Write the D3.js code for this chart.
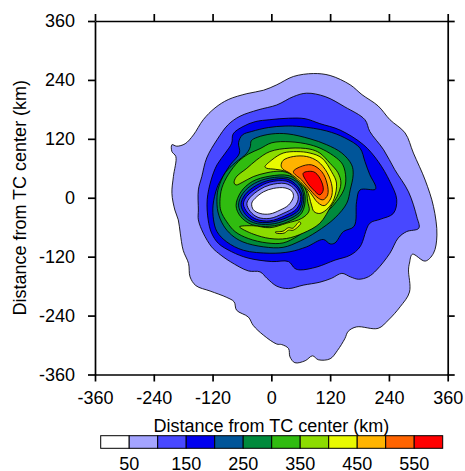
<!DOCTYPE html>
<html>
<head>
<meta charset="utf-8">
<script src="https://cdn.jsdelivr.net/npm/d3@7"></script>
<style>
html, body { margin: 0; padding: 0; background: #fff; overflow: hidden; }
svg { display: block; }
text { font-family: "Liberation Sans", Arial, sans-serif; fill: #000; }
</style>
</head>
<body>
<script>
// contour levels and the shading of each band
var levels = [50, 100, 150, 200, 250, 300, 350, 400, 450, 500, 550];
var colors = ["#ffffff", "#a4a4ff", "#4848ff", "#0000ee", "#005599", "#008a3c",
  "#30bc10", "#8cdc00", "#e8fa00", "#ffb400", "#ff6400", "#ff0000"];
var tickValues = [-360, -240, -120, 0, 120, 240, 360];
var barLabels = [50, 150, 250, 350, 450, 550];
var axisTitle = "Distance from TC center (km)";

// contours, [x km, y km]
var outer50 = [[-203,108],[-203,94],[-195,84],[-200,43],[-203,9],[-197,-25],[-190,-45],[-186,-72],[-180,-107],[-169,-134],[-166,-161],[-154,-179],[-125,-190],[-91,-203],[-76,-212],[-71,-229],[-47,-243],[-37,-260],[-16,-280],[11,-298],[21,-299],[35,-307],[38,-324],[48,-336],[69,-332],[84,-322],[96,-330],[120,-328],[135,-311],[150,-287],[157,-272],[174,-263],[218,-266],[239,-249],[263,-222],[282,-192],[280,-147],[282,-133],[288,-115],[314,-129],[331,-113],[338,-76],[331,-18],[314,36],[290,91],[273,132],[242,159],[218,187],[185,210],[161,230],[120,249],[86,253],[45,247],[11,230],[-16,219],[-50,212],[-88,200],[-115,183],[-139,159],[-159,128],[-176,110],[-193,105]];
var outer100 = [[72,213],[110,206],[150,185],[191,159],[201,135],[229,98],[252,57],[280,12],[297,-39],[301,-62],[276,-69],[259,-82],[242,-113],[215,-147],[198,-161],[178,-166],[161,-161],[144,-154],[123,-164],[99,-172],[65,-178],[35,-185],[11,-180],[-9,-164],[-23,-151],[-47,-149],[-84,-130],[-108,-113],[-122,-100],[-139,-72],[-149,-45],[-149,-25],[-149,16],[-142,43],[-132,81],[-111,118],[-88,149],[-64,166],[-27,179],[11,189],[45,206]];
var outer150 = [[35,162],[69,161],[99,151],[140,138],[188,108],[218,74],[242,33],[256,-4],[249,-32],[222,-44],[201,-52],[181,-100],[161,-117],[130,-127],[93,-141],[59,-147],[48,-144],[35,-130],[1,-130],[-47,-123],[-81,-110],[-108,-93],[-122,-72],[-129,-45],[-131,-4],[-123,36],[-111,67],[-94,91],[-81,111],[-78,130],[-58,145],[-33,155],[-3,159]];
var outer200 = [[-6,143],[28,146],[59,145],[113,136],[150,122],[181,101],[191,74],[201,47],[213,23],[212,17],[181,16],[174,-8],[169,-58],[147,-69],[130,-92],[120,-94],[106,-85],[72,-100],[38,-110],[-3,-113],[-57,-107],[-91,-90],[-111,-69],[-118,-45],[-119,-15],[-111,20],[-101,40],[-84,67],[-65,91],[-67,112],[-59,128],[-40,135]];
var outer250 = [[1,130],[34,130],[79,120],[113,108],[144,91],[164,67],[167,47],[161,16],[154,-11],[130,-41],[93,-69],[59,-88],[24,-101],[-16,-100],[-58,-90],[-81,-76],[-98,-56],[-109,-29],[-111,0],[-108,20],[-94,51],[-74,71],[-50,91],[-43,104],[-41,116],[-29,123]];
var outer300 = [[1,112],[38,114],[79,108],[106,98],[133,81],[146,67],[152,40],[148,16],[127,-15],[99,-42],[75,-62],[54,-78],[24,-92],[-9,-92],[-47,-83],[-74,-69],[-91,-49],[-103,-27],[-105,-8],[-101,20],[-88,47],[-67,74],[-47,89],[-23,100]];
var band350 = [[-76,30],[-72,42],[-50,60],[-30,77],[-3,94],[38,101],[79,99],[99,91],[120,70],[136,51],[142,30],[134,2],[122,-17],[99,-52],[65,-72],[31,-83],[-3,-83],[-37,-74],[-62,-62],[-65,-59],[-37,-57],[-3,-61],[31,-52],[62,-42],[77,-27],[74,-7],[71,14],[57,35],[38,49],[18,54],[-9,51],[-37,43],[-58,32],[-72,26]];
var band400 = [[-13,63],[1,77],[24,91],[52,94],[79,91],[103,81],[123,53],[133,30],[128,-2],[116,-21],[99,-32],[87,-28],[82,-15],[72,16],[52,36],[31,53],[8,58],[-9,60]];
var squiggle400 = [[8,-70],[24,-68],[35,-61],[44,-62],[57,-49],[60,-52],[45,-66],[35,-66],[26,-72],[10,-72]];
var band450 = [[20,65],[24,76],[45,84],[72,84],[95,74],[114,51],[124,22],[122,0],[108,-16],[95,-10],[79,11],[59,33],[38,50],[24,58]];
var band500 = [[45,53],[59,63],[82,67],[103,53],[114,28],[115,6],[106,-4],[96,-1],[79,16],[62,36]];
var band550 = [[65,50],[86,53],[99,40],[106,16],[99,6],[86,16],[72,33]];
// inner contours around the eye, low side of each level faces the centre
var eye300 = [[-72,-16],[-62,12],[-39,33],[-3,44],[36,45],[58,30],[69,3],[62,-31],[34,-49],[-3,-58],[-39,-55],[-63,-38]];
var eye250 = [[-67,-15],[-58,9],[-35,29],[-3,40],[34,41],[56,28],[66,3],[59,-28],[32,-45],[-3,-54],[-36,-51],[-58,-36]];
var eye200 = [[-62,-14],[-54,6],[-31,25],[-3,36],[32,38],[52,25],[63,3],[56,-25],[30,-41],[-3,-50],[-33,-48],[-53,-34]];
var eye150 = [[-57,-13],[-50,3],[-27,21],[-3,32],[30,34],[49,23],[60,3],[52,-22],[27,-37],[-3,-47],[-30,-44],[-48,-31]];
var eye100 = [[-50,-12],[-43,1],[-23,17],[-3,26],[28,29],[45,20],[55,2],[48,-18],[24,-32],[-3,-42],[-27,-40],[-43,-28]];
var eye50 = [[-40,-11],[-33,-1],[-16,12],[4,19],[28,20],[42,13],[45,2],[35,-15],[18,-25],[-3,-33],[-23,-32],[-37,-24]];

var width = 465;
var height = 471;
var plot = { left: 95, right: 447.7, top: 21, bottom: 374.5 };
var bar = { left: 100.7, right: 442.7, top: 435.7, bottom: 448.3 };

var svg = d3.select("body")
  .append("svg")
  .attr("width", width)
  .attr("height", height);

var x = d3.scaleLinear().domain([-360, 360]).range([plot.left, plot.right]);
var y = d3.scaleLinear().domain([-360, 360]).range([plot.bottom, plot.top]);

var line = d3.line()
  .x(function (d) { return x(d[0]); })
  .y(function (d) { return y(d[1]); })
  .curve(d3.curveCatmullRomClosed.alpha(0.5));

// painted low to high, the eye holes before the bands that cut past them
var layers = [
  { pts: outer50, fill: colors[1] },
  { pts: outer100, fill: colors[2] },
  { pts: outer150, fill: colors[3] },
  { pts: outer200, fill: colors[4] },
  { pts: outer250, fill: colors[5] },
  { pts: outer300, fill: colors[6] },
  { pts: eye300, fill: colors[5] },
  { pts: eye250, fill: colors[4] },
  { pts: eye200, fill: colors[3] },
  { pts: eye150, fill: colors[2] },
  { pts: eye100, fill: colors[1] },
  { pts: eye50, fill: colors[0] },
  { pts: band350, fill: colors[7] },
  { pts: band400, fill: colors[8] },
  { pts: squiggle400, fill: colors[8] },
  { pts: band450, fill: colors[9] },
  { pts: band500, fill: colors[10] },
  { pts: band550, fill: colors[11] }
];

svg.append("g")
  .selectAll("path")
  .data(layers)
  .enter()
  .append("path")
  .attr("d", function (d) { return line(d.pts); })
  .attr("fill", function (d) { return d.fill; })
  .attr("stroke", "#000")
  .attr("stroke-width", 0.85)
  .attr("stroke-linejoin", "round");

// axes, ticks point outward on all four sides
function styleAxis(g) {
  g.selectAll("path").attr("stroke", "#000").attr("stroke-width", 1.7);
  g.selectAll("line").attr("stroke", "#000").attr("stroke-width", 1.7);
  g.selectAll("text").attr("font-size", "18px").attr("fill", "#000");
}

// plain hyphen on the negative labels, as in the original
function tickLabel(d) {
  return String(d);
}

svg.append("g")
  .attr("transform", "translate(0," + plot.bottom + ")")
  .call(d3.axisBottom(x).tickValues(tickValues).tickSize(7).tickSizeOuter(0).tickPadding(10).tickFormat(tickLabel))
  .call(styleAxis);
svg.append("g")
  .attr("transform", "translate(" + plot.left + ",0)")
  .call(d3.axisLeft(y).tickValues(tickValues).tickSize(7).tickSizeOuter(0).tickPadding(13).tickFormat(tickLabel))
  .call(styleAxis);
svg.append("g")
  .attr("transform", "translate(0," + plot.top + ")")
  .call(d3.axisTop(x).tickValues(tickValues).tickSize(7).tickSizeOuter(0).tickFormat(""))
  .call(styleAxis);
svg.append("g")
  .attr("transform", "translate(" + plot.right + ",0)")
  .call(d3.axisRight(y).tickValues(tickValues).tickSize(7).tickSizeOuter(0).tickFormat(""))
  .call(styleAxis);

svg.selectAll(".domain").attr("fill", "none");

svg.append("text")
  .attr("x", (plot.left + plot.right) / 2)
  .attr("y", 431.5)
  .attr("text-anchor", "middle")
  .attr("font-size", "18px")
  .text(axisTitle);

svg.append("text")
  .attr("transform", "translate(26," + (plot.top + plot.bottom) / 2 + ") rotate(-90)")
  .attr("text-anchor", "middle")
  .attr("font-size", "18px")
  .text(axisTitle);

// colour bar
var barScale = d3.scaleLinear().domain([0, 600]).range([bar.left, bar.right]);

svg.append("g")
  .selectAll("rect")
  .data(colors)
  .enter()
  .append("rect")
  .attr("x", function (d, i) { return barScale(i * 50); })
  .attr("y", bar.top)
  .attr("width", function (d, i) { return barScale((i + 1) * 50) - barScale(i * 50); })
  .attr("height", bar.bottom - bar.top)
  .attr("fill", function (d) { return d; })
  .attr("stroke", "#000")
  .attr("stroke-width", 1);

svg.append("g")
  .selectAll("text")
  .data(barLabels)
  .enter()
  .append("text")
  .attr("x", function (d) { return barScale(d); })
  .attr("y", 470)
  .attr("text-anchor", "middle")
  .attr("font-size", "18px")
  .text(function (d) { return d; });
</script>
</body>
</html>
